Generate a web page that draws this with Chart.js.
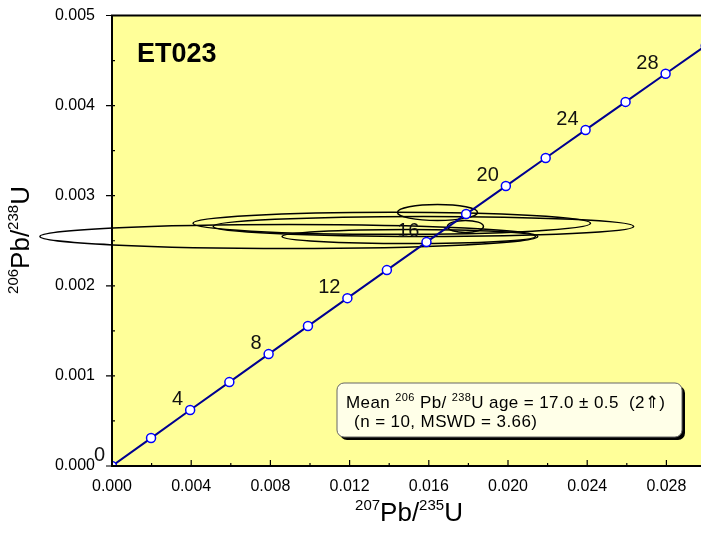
<!DOCTYPE html>
<html>
<head>
<meta charset="utf-8">
<script src="https://cdn.jsdelivr.net/npm/chart.js@4.4.1/dist/chart.umd.min.js"></script>
<style>
  html, body { margin: 0; padding: 0; background: #fff; overflow: hidden; }
  canvas { display: block; }
</style>
</head>
<body>
<canvas id="concordia" width="712" height="535"></canvas>
<script>
// Concordia diagram, sample ET023 (207/235 vs 206/238)

// concordia curve nodes, every 2 Ma
const ages = [0, 2, 4, 6, 8, 10, 12, 14, 16, 18, 20, 22, 24, 26, 28, 30];
const ratio207_235 = [0, 0.001972, 0.003947, 0.005927, 0.007910, 0.009897, 0.011888, 0.013883,
  0.015882, 0.017885, 0.019892, 0.021903, 0.023918, 0.025937, 0.027960, 0.029986];
const ratio206_238 = [0, 0.000310, 0.000621, 0.000931, 0.001242, 0.001553, 0.001863, 0.002174,
  0.002485, 0.002796, 0.003107, 0.003419, 0.003730, 0.004041, 0.004353, 0.004665];
const labelledAges = [0, 4, 8, 12, 16, 20, 24, 28];

// error ellipses (centre, half-widths)
const ellX = [0.00893, 0.01413, 0.01573, 0.01499, 0.01785, 0.01644];
const ellY = [0.002548, 0.002693, 0.002659, 0.002548, 0.002659, 0.002814];
const ellRx = [0.01257, 0.01004, 0.01062, 0.00640, 0.00091, 0.00202];
const ellRy = [0.000133, 0.000122, 0.000111, 0.000078, 0.000067, 0.000089];

const xTicks = [0, 0.004, 0.008, 0.012, 0.016, 0.020, 0.024, 0.028];
const yTicks = [0, 0.001, 0.002, 0.003, 0.004, 0.005];

const sampleName = "ET023";
const FONT = "'Liberation Sans', Arial, sans-serif";

function richText(ctx, parts, x, y) {
  // parts: [text, size, raise]
  let cx = x;
  for (const [t, size, raise] of parts) {
    ctx.font = size + "px " + FONT;
    ctx.fillText(t, cx, y - raise);
    cx += ctx.measureText(t).width;
  }
  return cx - x;
}
function richWidth(ctx, parts) {
  let w = 0;
  for (const [t, size] of parts) {
    ctx.font = size + "px " + FONT;
    w += ctx.measureText(t).width;
  }
  return w;
}

const framePlugin = {
  id: "framePlugin",
  beforeDraw(chart) {
    const { ctx, chartArea: a } = chart;
    ctx.save();
    ctx.fillStyle = "#FFFF99";
    ctx.fillRect(a.left, a.top, a.right - a.left, a.bottom - a.top);
    ctx.restore();
  },
  beforeDatasetsDraw(chart) {
    const { ctx } = chart;
    const xs = chart.scales.x, ys = chart.scales.y;
    ctx.save();
    ctx.strokeStyle = "#000";
    ctx.lineWidth = 1.5;
    for (let i = 0; i < ellX.length; i++) {
      const cx = xs.getPixelForValue(ellX[i]);
      const cy = ys.getPixelForValue(ellY[i]);
      const rx = Math.abs(xs.getPixelForValue(ellX[i] + ellRx[i]) - cx);
      const ry = Math.abs(ys.getPixelForValue(ellY[i] + ellRy[i]) - cy);
      ctx.beginPath();
      ctx.ellipse(cx, cy, rx, ry, 0, 0, Math.PI * 2);
      ctx.stroke();
    }
    ctx.restore();
  },
  afterDatasetsDraw(chart) {
    const { ctx, chartArea: a } = chart;
    const xs = chart.scales.x, ys = chart.scales.y;
    ctx.save();

    // frame
    ctx.strokeStyle = "#000";
    ctx.lineWidth = 2;
    ctx.strokeRect(a.left, a.top, a.right - a.left, a.bottom - a.top);

    // ticks: y outward, x inward, with minor ticks
    ctx.lineWidth = 1.2;
    ctx.beginPath();
    for (let i = 0; i < yTicks.length; i++) {
      const py = ys.getPixelForValue(yTicks[i]);
      ctx.moveTo(a.left - 6, py); ctx.lineTo(a.left + 3, py);
      if (i < yTicks.length - 1) {
        const pm = ys.getPixelForValue((yTicks[i] + yTicks[i + 1]) / 2);
        ctx.moveTo(a.left, pm); ctx.lineTo(a.left + 3, pm);
      }
    }
    for (let i = 0; i < xTicks.length; i++) {
      const px = xs.getPixelForValue(xTicks[i]);
      ctx.moveTo(px, a.bottom); ctx.lineTo(px, a.bottom - 6);
      const pm = xs.getPixelForValue(xTicks[i] + 0.002);
      ctx.moveTo(pm, a.bottom); ctx.lineTo(pm, a.bottom - 3);
    }
    ctx.stroke();

    // age labels on concordia
    ctx.fillStyle = "#111";
    ctx.font = "20px " + FONT;
    ctx.textAlign = "right";
    ctx.textBaseline = "alphabetic";
    labelledAges.forEach(age => {
      const i = ages.indexOf(age);
      const px = xs.getPixelForValue(ratio207_235[i]);
      const py = ys.getPixelForValue(ratio206_238[i]);
      ctx.fillText(String(age), px - 7, py - 5);
    });

    // sample name
    ctx.textAlign = "left";
    ctx.fillStyle = "#000";
    ctx.font = "bold 27px " + FONT;
    ctx.fillText(sampleName, a.left + 25, a.top + 46);

    // result box
    const bx = 337, by = 383, bw = 345, bh = 54;
    ctx.fillStyle = "#000";
    ctx.beginPath();
    ctx.roundRect(bx + 3, by + 3, bw, bh, 7);
    ctx.fill();
    ctx.fillStyle = "#FFFFE8";
    ctx.strokeStyle = "#666";
    ctx.lineWidth = 1;
    ctx.beginPath();
    ctx.roundRect(bx, by, bw, bh, 7);
    ctx.fill();
    ctx.stroke();
    ctx.fillStyle = "#000";
    ctx.letterSpacing = "0.4px";
    richText(ctx, [["Mean ", 17, 0], ["206", 11, 7], [" Pb/ ", 17, 0], ["238", 11, 7],
      ["U age = 17.0 \u00B1 0.5  (2\u21D1)", 17, 0]], bx + 9, by + 25);
    richText(ctx, [[" (n = 10, MSWD = 3.66)", 17, 0]], bx + 12, by + 44);
    ctx.letterSpacing = "0px";

    // axis titles
    const xt = [["207", 15, 11], ["Pb/", 26, 0], ["235", 15, 11], ["U", 26, 0]];
    const xw = richWidth(ctx, xt);
    richText(ctx, xt, 409 - xw / 2, 521);

    const yt = [["206", 15, 11], ["Pb/", 26, 0], ["238", 15, 11], ["U", 26, 0]];
    const yw = richWidth(ctx, yt);
    ctx.translate(29, 240);
    ctx.rotate(-Math.PI / 2);
    richText(ctx, yt, -yw / 2, 0);

    ctx.restore();
  }
};

const concordiaPoints = ages.map((t, i) => ({ x: ratio207_235[i], y: ratio206_238[i] }));

new Chart(document.getElementById("concordia"), {
  type: "scatter",
  data: {
    datasets: [{
      data: concordiaPoints,
      showLine: true,
      borderColor: "#000090",
      borderWidth: 2,
      pointRadius: 4.5,
      pointBackgroundColor: "#fff",
      pointBorderColor: "#0000FF",
      pointBorderWidth: 1.5
    }]
  },
  options: {
    responsive: false,
    animation: false,
    layout: { padding: { top: 15.5, right: 0, left: 0, bottom: 0 } },
    plugins: { legend: { display: false }, tooltip: { enabled: false } },
    scales: {
      x: {
        type: "linear", min: 0, max: 0.030,
        grid: { display: false }, border: { display: false },
        afterFit: s => { s.height = 69; s.paddingLeft = 0; s.paddingRight = 0; },
        afterBuildTicks: s => { s.ticks = xTicks.map(v => ({ value: v })); },
        ticks: { padding: 3, autoSkip: false, maxRotation: 0, color: "#000",
          font: { family: FONT, size: 16 }, callback: v => v.toFixed(3) }
      },
      y: {
        type: "linear", min: 0, max: 0.005,
        grid: { display: false }, border: { display: false },
        afterFit: s => { s.width = 112; s.paddingTop = 0; s.paddingBottom = 0; },
        afterBuildTicks: s => { s.ticks = yTicks.map(v => ({ value: v })); },
        ticks: { padding: 9, color: "#000",
          font: { family: FONT, size: 16 }, callback: v => v.toFixed(3) }
      }
    }
  },
  plugins: [framePlugin]
});
</script>
</body>
</html>
